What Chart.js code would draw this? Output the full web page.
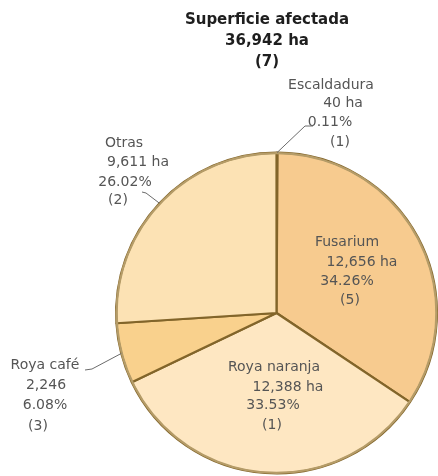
<!DOCTYPE html>
<html>
<head>
<meta charset="utf-8">
<script src="https://cdn.jsdelivr.net/npm/chart.js@4.4.1/dist/chart.umd.min.js"></script>
<style>
  html, body { margin: 0; padding: 0; background: #fff; }
  canvas { display: block; }
</style>
</head>
<body>
<canvas id="pieChart" width="438" height="476"></canvas>
<script>
// data
const categories = ['Escaldadura', 'Fusarium', 'Roya naranja', 'Roya café', 'Otras'];
const hectares = [40, 12656, 12388, 2246, 9611];
const areaLabels = ['40 ha', '12,656 ha', '12,388 ha', '2,246', '9,611 ha'];
const percentLabels = ['0.11%', '34.26%', '33.53%', '6.08%', '26.02%'];
const counts = ['(1)', '(5)', '(1)', '(3)', '(2)'];
const titleLines = ['Superficie afectada', '36,942 ha', '(7)'];

const sliceColors = ['#F4C27A', '#F7CB8F', '#FEE7C2', '#F9D18D', '#FCE2B4'];

// where each label block sits (line centres), and which get a leader line
const labelSpots = [
    { lines: [[331, 85], [343, 103], [330, 122], [340, 142]], leader: [[313, 126], [305, 126]] },
    { lines: [[347, 242], [362, 262], [347, 281], [350, 300]] },
    { lines: [[274, 367], [288, 387], [273, 405], [272, 425]] },
    { lines: [[45, 365], [46, 385], [45, 405], [38, 426]], leader: [[85, 370], [92, 369]] },
    { lines: [[124, 143], [138, 162], [125, 182], [118, 200]], leader: [[142, 192], [146, 193]] }
];

const pieLabels = {
    id: 'pieLabels',
    afterDraw(chart) {
        const ctx = chart.ctx;
        const arcs = chart.getDatasetMeta(0).data;
        ctx.save();

        // lighter, thinner rim like the original
        const a0 = arcs[0];
        ctx.strokeStyle = '#b59c68';
        ctx.lineWidth = 2.2;
        ctx.beginPath();
        ctx.arc(a0.x, a0.y, a0.outerRadius - 0.5, 0, Math.PI * 2);
        ctx.stroke();

        ctx.textAlign = 'center';
        ctx.textBaseline = 'middle';

        // title
        ctx.fillStyle = '#1e1e1e';
        ctx.font = 'bold 15px "DejaVu Sans"';
        const titleY = [20, 41, 62];
        titleLines.forEach((t, i) => ctx.fillText(t, 267, titleY[i]));

        // slice labels
        ctx.font = '14px "DejaVu Sans"';
        ctx.fillStyle = '#555';
        categories.forEach((cat, i) => {
            const texts = [cat, areaLabels[i], percentLabels[i], counts[i]];
            const spot = labelSpots[i];
            texts.forEach((t, j) => ctx.fillText(t, spot.lines[j][0], spot.lines[j][1]));

            if (spot.leader) {
                const a = arcs[i];
                const mid = (a.startAngle + a.endAngle) / 2;
                const ex = a.x + Math.cos(mid) * a.outerRadius;
                const ey = a.y + Math.sin(mid) * a.outerRadius;
                ctx.strokeStyle = '#6b6b6b';
                ctx.lineWidth = 1;
                ctx.beginPath();
                ctx.moveTo(spot.leader[0][0], spot.leader[0][1]);
                ctx.lineTo(spot.leader[1][0], spot.leader[1][1]);
                ctx.lineTo(ex, ey);
                ctx.stroke();
            }
        });
        ctx.restore();
    }
};

new Chart(document.getElementById('pieChart').getContext('2d'), {
    type: 'pie',
    data: {
        labels: categories,
        datasets: [{
            data: hectares,
            backgroundColor: sliceColors,
            borderColor: '#82652a',
            borderWidth: 2.2
        }]
    },
    options: {
        responsive: false,
        animation: false,
        layout: { padding: { left: 115, top: 151, right: 0, bottom: 1 } },
        plugins: {
            legend: { display: false },
            tooltip: { enabled: false }
        }
    },
    plugins: [pieLabels]
});
</script>
</body>
</html>
